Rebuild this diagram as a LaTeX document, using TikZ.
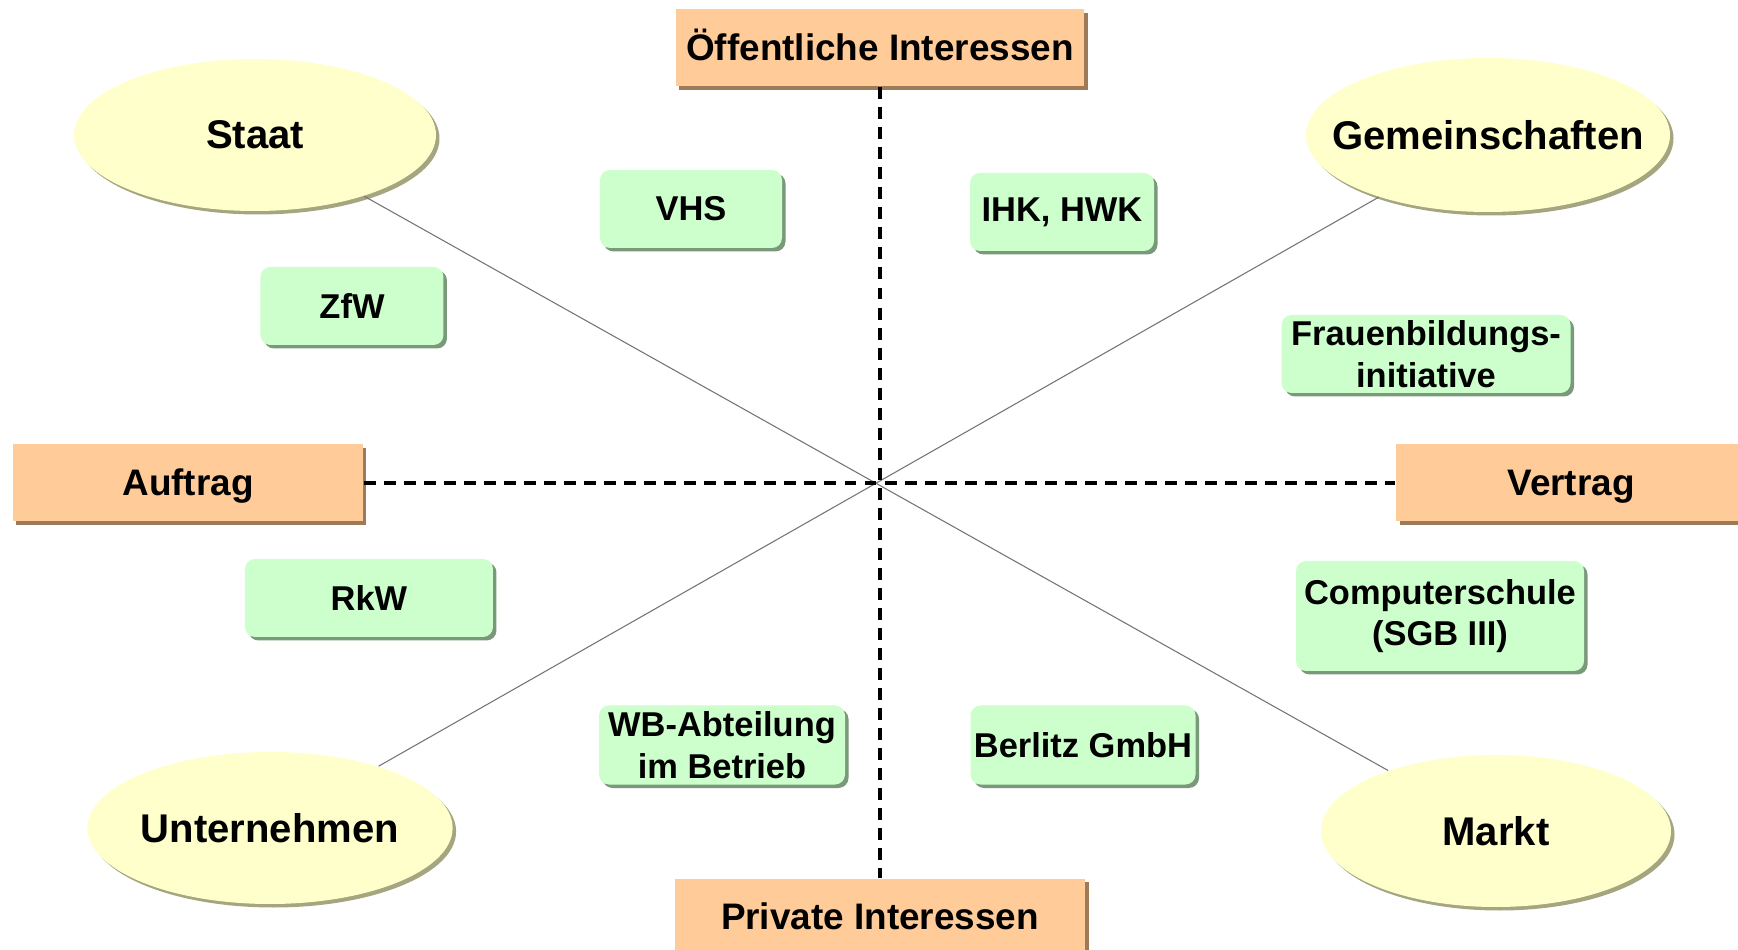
\documentclass[tikz,border=0pt]{standalone}
\usepackage{fontspec}
\setmainfont{Liberation Sans}
\usetikzlibrary{shapes.geometric,shadows}
\definecolor{apeach}{RGB}{255,204,153}
\definecolor{apeachsh}{RGB}{158,122,88}
\definecolor{ogreen}{RGB}{204,255,204}
\definecolor{ogreensh}{RGB}{122,152,122}
\definecolor{pyellow}{RGB}{255,255,204}
\definecolor{pyellowsh}{RGB}{165,165,128}
\tikzset{
  axbox/.style ={rectangle, fill=apeach, inner sep=0pt, minimum width=3.5cm,
                 minimum height=0.77cm, text height=0.72em, text depth=0pt,
                 font=\fontsize{10.5}{12.6}\selectfont\bfseries,
                 drop shadow={shadow xshift=0.35mm, shadow yshift=-0.35mm,
                 fill=apeachsh, opacity=1}},
  orgbox/.style={rectangle, rounded corners=1mm, fill=ogreen, align=center,
                 inner sep=0pt, minimum height=0.78cm,
                 font=\fontsize{9.8}{11.8}\selectfont\bfseries,
                 drop shadow={shadow xshift=0.35mm, shadow yshift=-0.35mm,
                 fill=ogreensh, opacity=1}},
  sector/.style={ellipse, fill=pyellow, inner sep=0pt, minimum width=3.62cm,
                 minimum height=1.52cm, font=\fontsize{11.4}{13.7}\selectfont\bfseries,
                 drop shadow={shadow xshift=0.35mm, shadow yshift=-0.35mm,
                 fill=pyellowsh, opacity=1}},
  diag/.style  ={draw=black!55, line width=0.3pt},
  dline/.style ={draw=black, line width=1pt, dash pattern=on 3.4pt off 2.3pt}
}

\begin{document}
\begin{tikzpicture}
\useasboundingbox (-8.80,-4.67) rectangle (8.58,4.83);
\clip (-8.80,-4.67) rectangle (8.58,4.83);

\node[axbox, minimum width=4.08cm] (oeff) at (0,4.35) {Öffentliche Interessen};
\node[axbox, minimum width=4.10cm] (priv) at (0,-4.34) {Private Interessen};
\node[axbox] (auftrag) at (-6.92,0) {Auftrag};
\node[axbox] (vertrag) at (6.91,0) {Vertrag};

\node[sector] (staat) at (-6.25,3.48) {Staat};
\node[sector, minimum width=3.64cm, minimum height=1.54cm] (gemein) at (6.08,3.48)
  {\makebox[0pt]{Gemeinschaften}};
\node[sector, minimum width=3.65cm] (untern) at (-6.10,-3.45) {Unternehmen};
\node[sector, minimum width=3.50cm] (markt) at (6.16,-3.48) {Markt};

\node[orgbox, minimum width=1.82cm] (vhs) at (-1.89,2.74) {VHS};
\node[orgbox, minimum width=1.84cm] (ihk) at (1.82,2.71) {IHK, HWK};
\node[orgbox, minimum width=1.83cm] (zfw) at (-5.28,1.77) {ZfW};
\node[orgbox, minimum width=2.89cm] (frauen) at (5.46,1.29)
  {Frauenbildungs-\\initiative};
\node[orgbox, minimum width=2.48cm] (rkw) at (-5.11,-1.15) {RkW};
\node[orgbox, minimum width=2.88cm, minimum height=1.10cm] (comp) at (5.60,-1.33)
  {Computerschule\\(SGB III)};
\node[orgbox, minimum width=2.46cm, minimum height=0.79cm] (wb) at (-1.58,-2.62)
  {WB-Abteilung\\im Betrieb};
\node[orgbox, minimum width=2.25cm, minimum height=0.79cm] (berlitz) at (2.03,-2.62)
  {Berlitz GmbH};

\draw[diag] (staat) -- (markt);
\draw[diag] (gemein) -- (untern);
\draw[dline] (oeff) -- (priv);
\draw[dline] (auftrag) -- (vertrag);
\end{tikzpicture}
\end{document}
